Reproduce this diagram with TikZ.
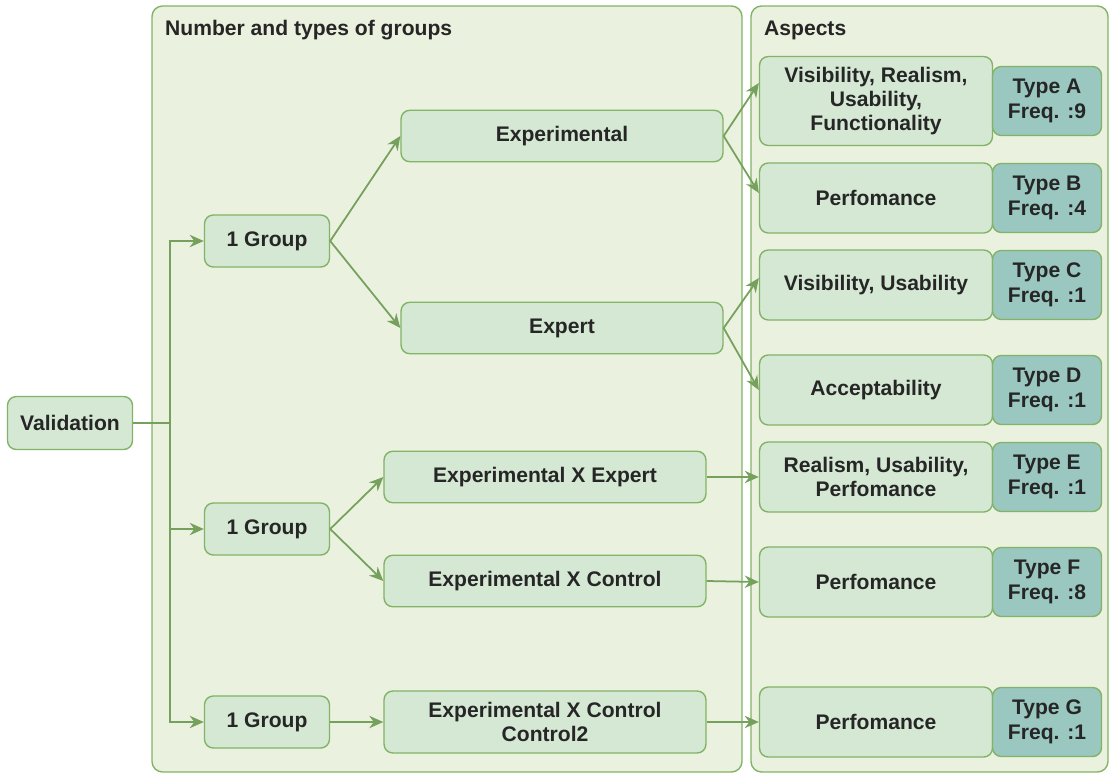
\documentclass[tikz,border=0pt]{standalone}
\usepackage{fontspec}
\setmainfont{Liberation Sans}
\usetikzlibrary{arrows.meta}

\definecolor{boxfill}{HTML}{D5E8D4}
\definecolor{boxline}{HTML}{82B366}
\definecolor{panelfill}{HTML}{EBF1DF}
\definecolor{typefill}{HTML}{9AC7BF}

\begin{document}
\begin{tikzpicture}[
  x=0.02cm, y=-0.02cm,
  panel/.style={
    draw=boxline,
    fill=panelfill,
    line width=0.8pt,
    rounded corners=6pt
  },
  box/.style={
    rectangle,
    draw=boxline,
    fill=boxfill,
    line width=0.8pt,
    rounded corners=5pt,
    align=center,
    inner sep=2pt,
    text=black!85,
    font=\fontsize{12}{13.5}\selectfont\bfseries
  },
  small/.style={box, minimum width=2.5cm, minimum height=1.04cm},
  wide/.style={box, minimum width=6.44cm, minimum height=1.03cm},
  aspect/.style={box, minimum width=4.66cm, minimum height=1.4cm},
  tag/.style={box, fill=typefill, minimum width=2.18cm, minimum height=1.38cm,
    font=\fontsize{12}{14.5}\selectfont\bfseries},
  title/.style={anchor=west, text=black!85, font=\fontsize{12}{13.5}\selectfont\bfseries},
  link/.style={draw=boxline!90!black, line width=1pt, -{Stealth[length=8pt,width=7pt]}}
]
  \useasboundingbox (0,0) rectangle (1110,774);

  % panels
  \draw[panel] (152,6) rectangle (742,772);
  \draw[panel] (751,6) rectangle (1108,772);
  \node[title] (grouptitle) at (159,30) {Number and types of groups};
  \node[title] (aspecttitle) at (758,30) {Aspects};

  % groups
  \node[small, minimum height=1.06cm] (valid) at (70,423) {Validation};
  \node[small] (grpA) at (267,241) {1 Group};
  \node[small] (grpB) at (267,529) {1 Group};
  \node[small] (grpC) at (267,722) {1 Group};

  \node[wide] (expl) at (562,136) {Experimental};
  \node[wide] (expt) at (562,328) {Expert};
  \node[wide] (exex) at (545,477) {Experimental X Expert};
  \node[wide] (exct) at (545,581) {Experimental X Control};
  \node[wide, minimum height=1.24cm] (exc2) at (545,722) {Experimental X Control\\Control2};

  % aspects
  \node[aspect, minimum height=1.78cm] (aspA) at (876,101) {Visibility, Realism,\\Usability,\\Functionality};
  \node[tag] (typA) at (1047,101) {Type A\\Freq. :9};
  \node[aspect] (aspB) at (876,198) {Perfomance};
  \node[tag] (typB) at (1047,198) {Type B\\Freq. :4};
  \node[aspect] (aspC) at (876,285) {Visibility, Usability};
  \node[tag] (typC) at (1047,285) {Type C\\Freq. :1};
  \node[aspect] (aspD) at (876,390) {Acceptability};
  \node[tag] (typD) at (1047,390) {Type D\\Freq. :1};
  \node[aspect] (aspE) at (876,477) {Realism, Usability,\\Perfomance};
  \node[tag] (typE) at (1047,477) {Type E\\Freq. :1};
  \node[aspect] (aspF) at (876,582) {Perfomance};
  \node[tag] (typF) at (1047,582) {Type F\\Freq. :8};
  \node[aspect] (aspG) at (876,722) {Perfomance};
  \node[tag] (typG) at (1047,722) {Type G\\Freq. :1};

  % links
  \draw[link] (valid.east) -- ++(37,0) |- (grpA.west);
  \draw[link] (valid.east) -- ++(37,0) |- (grpB.west);
  \draw[link] (valid.east) -- ++(37,0) |- (grpC.west);
  \draw[link] (grpA.east) -- (expl.west);
  \draw[link] (grpA.east) -- (expt.west);
  \draw[link] (expl.east) -- ([yshift=0.36cm]aspA.west);
  \draw[link] (expl.east) -- ([yshift=0.1cm]aspB.west);
  \draw[link] (expt.east) -- ([yshift=0.14cm]aspC.west);
  \draw[link] (expt.east) -- (aspD.west);
  \draw[link] (grpB.east) -- (exex.west);
  \draw[link] (grpB.east) -- (exct.west);
  \draw[link] (exex.east) -- (aspE.west);
  \draw[link] (exct.east) -- (aspF.west);
  \draw[link] (grpC.east) -- (exc2.west);
  \draw[link] (exc2.east) -- (aspG.west);
\end{tikzpicture}
\end{document}
